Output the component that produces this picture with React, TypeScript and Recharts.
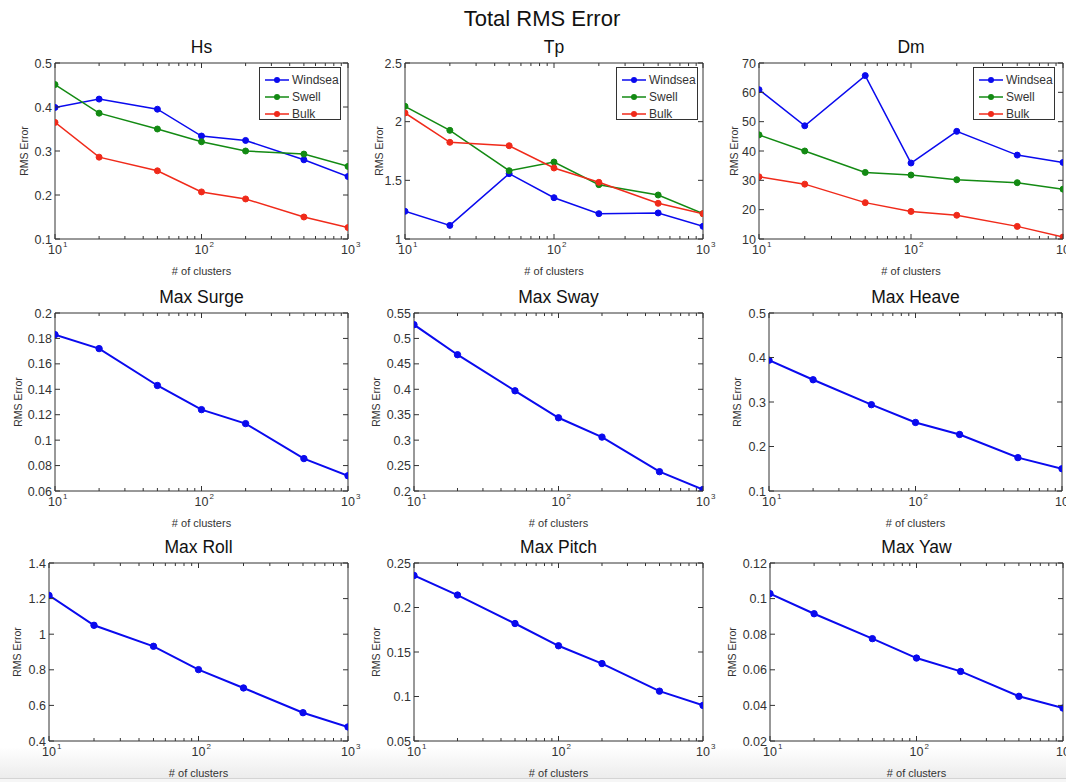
import React from 'react';
import { LineChart, Line, XAxis, YAxis, ReferenceArea, Legend, Label } from 'recharts';

const clusters = [10, 20, 50, 100, 200, 500, 1000];
const xMajorTicks = [10, 100, 1000];
const xMinorTicks = [20, 30, 40, 50, 60, 70, 80, 90, 200, 300, 400, 500, 600, 700, 800, 900];

const hsWindsea = [0.399, 0.418, 0.395, 0.334, 0.324, 0.28, 0.242];
const hsSwell = [0.451, 0.386, 0.35, 0.321, 0.3, 0.293, 0.265];
const hsBulk = [0.365, 0.286, 0.255, 0.207, 0.191, 0.15, 0.126];

const tpWindsea = [1.236, 1.116, 1.557, 1.352, 1.216, 1.222, 1.108];
const tpSwell = [2.131, 1.926, 1.582, 1.656, 1.463, 1.375, 1.216];
const tpBulk = [2.074, 1.824, 1.795, 1.605, 1.483, 1.304, 1.216];

const dmWindsea = [60.9, 48.6, 65.7, 35.9, 46.7, 38.6, 36.1];
const dmSwell = [45.5, 40.0, 32.7, 31.8, 30.2, 29.2, 27.0];
const dmBulk = [31.2, 28.7, 22.4, 19.4, 18.1, 14.3, 10.7];

const maxSurge = [0.183, 0.172, 0.143, 0.124, 0.113, 0.0855, 0.072];
const maxSway = [0.527, 0.468, 0.397, 0.344, 0.306, 0.238, 0.203];
const maxHeave = [0.394, 0.35, 0.294, 0.254, 0.227, 0.175, 0.15];
const maxRoll = [1.218, 1.05, 0.932, 0.801, 0.698, 0.559, 0.479];
const maxPitch = [0.236, 0.214, 0.182, 0.157, 0.137, 0.106, 0.09];
const maxYaw = [0.1028, 0.0915, 0.0775, 0.0666, 0.0591, 0.0451, 0.0385];

const hsTicks = [0.1, 0.2, 0.3, 0.4, 0.5];
const tpTicks = [1, 1.5, 2, 2.5];
const dmTicks = [10, 20, 30, 40, 50, 60, 70];
const surgeTicks = [0.06, 0.08, 0.1, 0.12, 0.14, 0.16, 0.18, 0.2];
const swayTicks = [0.2, 0.25, 0.3, 0.35, 0.4, 0.45, 0.5, 0.55];
const heaveTicks = [0.1, 0.2, 0.3, 0.4, 0.5];
const rollTicks = [0.4, 0.6, 0.8, 1, 1.2, 1.4];
const pitchTicks = [0.05, 0.1, 0.15, 0.2, 0.25];
const yawTicks = [0.02, 0.04, 0.06, 0.08, 0.1, 0.12];

const seriesNames = ['Windsea', 'Swell', 'Bulk'];

const BLUE = '#0a0aee';
const GREEN = '#138a13';
const RED = '#f02a1a';
const FONT = '"Liberation Sans", Arial, Helvetica, sans-serif';

type Series = { key: string; name: string; color: string; values: number[] };
type Panel = {
  title: string;
  box: [number, number, number, number];
  yTicks: number[];
  series: Series[];
  legend?: [number, number];
  ylabelOffset: number;
  width: number;
};

const waveSeries = (w: number[], s: number[], b: number[]): Series[] => [
  { key: 'windsea', name: seriesNames[0], color: BLUE, values: w },
  { key: 'swell', name: seriesNames[1], color: GREEN, values: s },
  { key: 'bulk', name: seriesNames[2], color: RED, values: b },
];
const single = (v: number[]): Series[] => [{ key: 'v', name: 'v', color: BLUE, values: v }];

const panels: Panel[] = [
  { title: 'Hs', box: [55, 63, 348, 239], yTicks: hsTicks, series: waveSeries(hsWindsea, hsSwell, hsBulk), legend: [259, 67], ylabelOffset: 30, width: 1.5 },
  { title: 'Tp', box: [405, 63, 703, 239], yTicks: tpTicks, series: waveSeries(tpWindsea, tpSwell, tpBulk), legend: [616, 67], ylabelOffset: 25, width: 1.5 },
  { title: 'Dm', box: [759, 63, 1063, 239], yTicks: dmTicks, series: waveSeries(dmWindsea, dmSwell, dmBulk), legend: [973, 67], ylabelOffset: 24, width: 1.5 },
  { title: 'Max Surge', box: [55, 313, 348, 491], yTicks: surgeTicks, series: single(maxSurge), ylabelOffset: 36, width: 2 },
  { title: 'Max Sway', box: [414, 313, 703, 491], yTicks: swayTicks, series: single(maxSway), ylabelOffset: 37, width: 2 },
  { title: 'Max Heave', box: [769, 313, 1062, 491], yTicks: heaveTicks, series: single(maxHeave), ylabelOffset: 31, width: 2 },
  { title: 'Max Roll', box: [49, 563, 348, 741], yTicks: rollTicks, series: single(maxRoll), ylabelOffset: 31, width: 2 },
  { title: 'Max Pitch', box: [414, 563, 703, 741], yTicks: pitchTicks, series: single(maxPitch), ylabelOffset: 37, width: 2 },
  { title: 'Max Yaw', box: [770, 563, 1063, 741], yTicks: yawTicks, series: single(maxYaw), ylabelOffset: 37, width: 2 },
];

const ML = 60;
const MT = 42;
const MR = 24;
const MB = 45;

const fmt = (v: number) => String(parseFloat(v.toFixed(4)));

function XTick(props: any, plotH: number) {
  const { x, y, payload } = props;
  const v = payload.value;
  const major = xMajorTicks.includes(v);
  const len = major ? 5 : 3;
  return (
    <g>
      <line x1={x} x2={x} y1={y} y2={y - len} stroke="#333" strokeWidth={1} />
      <line x1={x} x2={x} y1={y - plotH} y2={y - plotH + len} stroke="#333" strokeWidth={1} />
      {major && (
        <g>
          <text x={x} y={y + 15} textAnchor="middle" fontSize={12.5} fill="#333" fontFamily={FONT}>10</text>
          <text x={x + 8} y={y + 8} textAnchor="start" fontSize={8} fill="#333" fontFamily={FONT}>{String(Math.round(Math.log10(v)))}</text>
        </g>
      )}
    </g>
  );
}

function YTick(props: any, plotW: number) {
  const { x, y, payload } = props;
  return (
    <g>
      <line x1={x} x2={x + 5} y1={y} y2={y} stroke="#333" strokeWidth={1} />
      <line x1={x + plotW} x2={x + plotW - 5} y1={y} y2={y} stroke="#333" strokeWidth={1} />
      <text x={x - 3} y={y + 4.5} textAnchor="end" fontSize={12.5} fill="#333" fontFamily={FONT}>{fmt(payload.value)}</text>
    </g>
  );
}

function LegendBox({ series }: { series: Series[] }) {
  return (
    <div style={{ width: 82, height: 53, border: '1px solid #333', background: '#fff', boxSizing: 'border-box', paddingTop: 3 }}>
      {series.map((s) => (
        <div key={s.key} style={{ display: 'flex', alignItems: 'center', height: 17 }}>
          <svg width={32} height={10} style={{ display: 'block' }}>
            <line x1={5} x2={29} y1={5} y2={5} stroke={s.color} strokeWidth={1.5} />
            <circle cx={17} cy={5} r={3} fill={s.color} />
          </svg>
          <span style={{ fontFamily: FONT, fontSize: 12, color: '#333', lineHeight: '12px' }}>{s.name}</span>
        </div>
      ))}
    </div>
  );
}

function PanelChart({ p }: { p: Panel }) {
  const [l, t, r, b] = p.box;
  const plotW = r - l;
  const plotH = b - t;
  const data = clusters.map((n, i) => {
    const row: any = { n };
    p.series.forEach((s) => (row[s.key] = s.values[i]));
    return row;
  });
  const yMin = p.yTicks[0];
  const yMax = p.yTicks[p.yTicks.length - 1];
  const left = l - ML;
  const top = t - MT;
  return (
    <div style={{ position: 'absolute', left, top }}>
      <div
        style={{
          position: 'absolute',
          left: ML,
          width: plotW,
          top: MT - 26,
          textAlign: 'center',
          fontFamily: FONT,
          fontSize: 17.5,
          color: '#111',
          whiteSpace: 'nowrap',
        }}
      >
        {p.title}
      </div>
      <LineChart
        width={plotW + ML + MR}
        height={plotH + MT + MB}
        data={data}
        margin={{ top: MT, left: ML - 1, right: MR, bottom: MB - 1 }}
      >
        <XAxis
          dataKey="n"
          type="number"
          scale="log"
          domain={[10, 1000]}
          ticks={[...xMajorTicks, ...xMinorTicks].sort((a, c) => a - c)}
          interval={0}
          allowDataOverflow
          height={1}
          tickSize={0}
          tickMargin={0}
          tickLine={false}
          axisLine={false}
          tick={(props: any) => XTick(props, plotH)}
        >
          <Label
            content={(lp: any) => {
              const vb = lp.viewBox || { x: ML, y: MT + plotH, width: plotW };
              return (
                <text x={vb.x + vb.width / 2} y={vb.y + 36} textAnchor="middle" fontSize={11} fill="#333" fontFamily={FONT}>
                  # of clusters
                </text>
              );
            }}
          />
        </XAxis>
        <YAxis
          type="number"
          domain={[yMin, yMax]}
          ticks={p.yTicks}
          interval={0}
          allowDataOverflow
          width={1}
          tickSize={0}
          tickMargin={0}
          tickLine={false}
          axisLine={false}
          tick={(props: any) => YTick(props, plotW)}
        >
          <Label
            content={(lp: any) => {
              const vb = lp.viewBox || { x: ML - 1, y: MT, width: 1, height: plotH };
              const cx = vb.x + vb.width - p.ylabelOffset;
              const cy = vb.y + vb.height / 2;
              return (
                <text x={cx} y={cy} transform={`rotate(-90 ${cx} ${cy})`} textAnchor="middle" dominantBaseline="middle" fontSize={10.5} fill="#333" fontFamily={FONT}>
                  RMS Error
                </text>
              );
            }}
          />
        </YAxis>
        <ReferenceArea x1={10} x2={1000} y1={yMin} y2={yMax} fill="none" stroke="#333" strokeWidth={1} ifOverflow="visible" />
        {p.series.map((s) => (
          <Line
            key={s.key}
            dataKey={s.key}
            name={s.name}
            type="linear"
            stroke={s.color}
            strokeWidth={p.width}
            dot={{ r: p.width > 1.5 ? 3.2 : 3, fill: s.color, stroke: s.color, strokeWidth: 1 }}
            activeDot={false}
            isAnimationActive={false}
          />
        ))}
        {p.legend && (
          <Legend
            layout="horizontal"
            verticalAlign="middle"
            align="center"
            content={() => <LegendBox series={p.series} />}
            wrapperStyle={{ position: 'absolute', left: p.legend[0] - left, top: p.legend[1] - top, width: 'auto', margin: 0 }}
          />
        )}
      </LineChart>
    </div>
  );
}

export default function App() {
  return (
    <div style={{ position: 'absolute', left: 0, top: 0, width: 1066, height: 782, background: '#fff', overflow: 'hidden' }}>
      <div style={{ position: 'absolute', left: 0, top: 747, width: 1066, height: 31, background: 'linear-gradient(#ffffff, #ececec)' }} />
      <div style={{ position: 'absolute', left: 0, top: 778, width: 1066, height: 1, background: '#d4d4d4' }} />
      <div style={{ position: 'absolute', left: 0, top: 779, width: 1066, height: 3, background: '#f6f6f6' }} />
      <div
        style={{
          position: 'absolute',
          left: 0,
          width: 1084,
          top: 6,
          textAlign: 'center',
          fontFamily: FONT,
          fontSize: 22,
          color: '#111',
        }}
      >
        Total RMS Error
      </div>
      {panels.map((p) => (
        <PanelChart key={p.title} p={p} />
      ))}
    </div>
  );
}
